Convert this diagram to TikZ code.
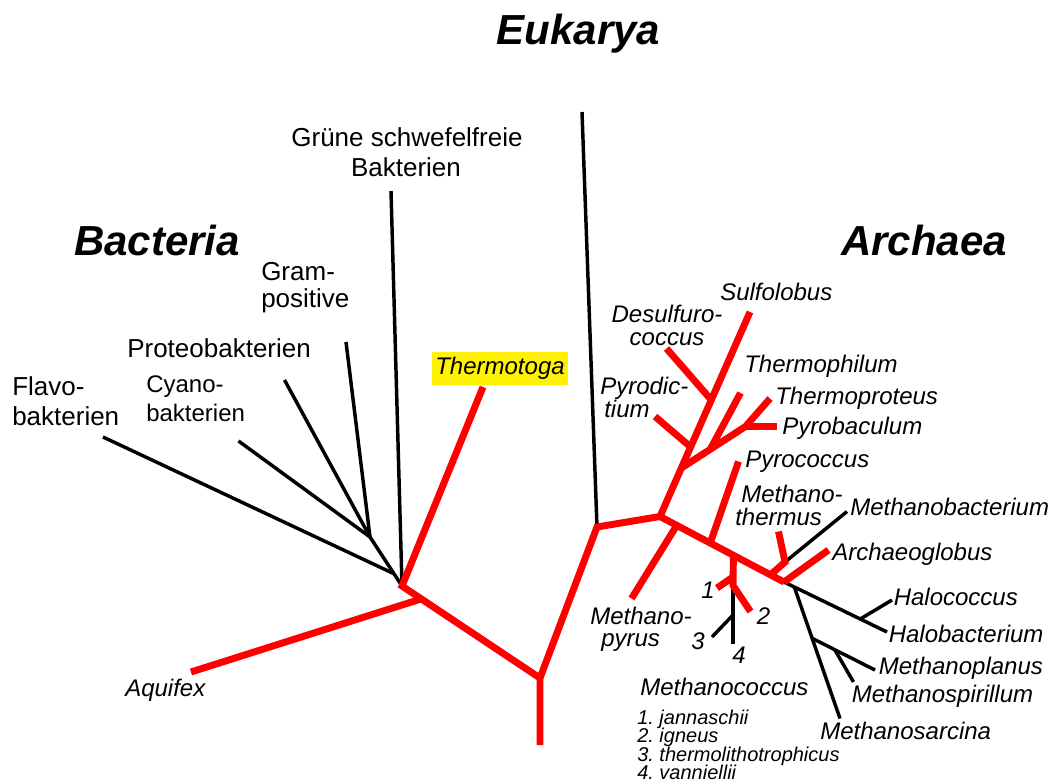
\documentclass[tikz,border=0pt]{standalone}
\usepackage{fontspec}
\setmainfont{Liberation Sans}
\usetikzlibrary{calc}
\frenchspacing
\begin{document}
\begin{tikzpicture}[x=0.75pt,y=-0.75pt,
  redline/.style={draw=red, line width=5.2pt},
  blkline/.style={draw=black, line width=2.6pt},
  title/.style={font=\fontsize{31.5}{34}\selectfont\bfseries\itshape, inner sep=0pt},
  blab/.style={font=\fontsize{19.5}{22}\selectfont, inner sep=0pt},
  clab/.style={font=\fontsize{18}{20}\selectfont, inner sep=0pt},
  lab/.style={font=\fontsize{18}{20}\selectfont\itshape, inner sep=0pt},
  slab/.style={font=\fontsize{15}{14}\selectfont\itshape, inner sep=0pt}]
\useasboundingbox (0,0) rectangle (1052,784);
% ---------- coordinates ----------
\coordinate (R0) at (540,745);
\coordinate (R1) at (540,678);
\coordinate (Bhub) at (402,586);
\coordinate (Ttop) at (483,387);
\coordinate (Aq) at (191,672);
\coordinate (AqJ) at ($(Bhub)!0.14!(R1)$);
\coordinate (Ej) at (597,527);
\coordinate (Aj) at (660,516.5);
\coordinate (Sulf) at (750,312);
\coordinate (DesJ) at ($(Aj)!0.57!(Sulf)$);
\coordinate (Des) at (666.5,348.5);
\coordinate (PydJ) at ($(Aj)!0.34!(Sulf)$);
\coordinate (Pyd) at (655,416.5);
\coordinate (ThJ) at ($(Aj)!0.237!(Sulf)$);
\coordinate (PbJ) at (745.5,426.5);
\coordinate (Tp) at (770,398.5);
\coordinate (Pb) at (777,426.5);
\coordinate (TfJ) at ($(ThJ)!0.45!(PbJ)$);
\coordinate (Tf) at (740.5,393);
\coordinate (Eend) at (784,582);
\coordinate (PcJ) at ($(Aj)!0.405!(Eend)$);
\coordinate (Pc) at (738.5,461.5);
\coordinate (MpJ) at ($(Aj)!0.135!(Eend)$);
\coordinate (Mp) at (631.5,598.5);
\coordinate (McJ) at ($(Aj)!0.592!(Eend)$);
\coordinate (Mc1) at (733,577);
\coordinate (Mc2) at (733,585.5);
\coordinate (M1) at (717,588);
\coordinate (M2) at (750.5,611.5);
\coordinate (Mc3) at (733,615);
\coordinate (M3) at (712,637);
\coordinate (M4) at (733,643.5);
\coordinate (MtJ) at ($(Aj)!0.891!(Eend)$);
\coordinate (MtK) at (785,562);
\coordinate (Mt) at (778.5,531.5);
\coordinate (Mb) at (847,511.5);
\coordinate (Ag) at (828.5,550);
\coordinate (Hb) at (887,632);
\coordinate (HcJ) at ($(Eend)!0.74!(Hb)$);
\coordinate (Hc) at (892,600);
\coordinate (MsJ) at ($(Eend)!0.1!(Hb)$);
\coordinate (Ms) at (840,718.5);
\coordinate (MplJ) at ($(MsJ)!0.39!(Ms)$);
\coordinate (Mpl) at (875,670);
\coordinate (MspJ) at ($(MplJ)!0.36!(Mpl)$);
\coordinate (Msp) at (853.5,682);
\coordinate (GrT) at (391,191);
\coordinate (J1) at (370,537);
\coordinate (J2) at ($(J1)!0.75!(Bhub)$);
\coordinate (GpT) at (346,342);
\coordinate (PrT) at (284.5,380);
\coordinate (CyT) at (238.5,441);
\coordinate (FlT) at (103,437);
\coordinate (EuT) at (582,112);
% ---------- black branches ----------
\draw[blkline] (EuT) -- (Ej);
\draw[blkline] (GrT) -- (Bhub);
\draw[blkline] (J1) -- (Bhub);
\draw[blkline] (GpT) -- (J1);
\draw[blkline] (PrT) -- (J1);
\draw[blkline] (CyT) -- (J1);
\draw[blkline] (FlT) -- (J2);
\draw[blkline] (Eend) -- (Hb);
\draw[blkline] (HcJ) -- (Hc);
\draw[blkline] (MsJ) -- (Ms);
\draw[blkline] (MplJ) -- (Mpl);
\draw[blkline] (MspJ) -- (Msp);
\draw[blkline] (MtK) -- (Mb);
\draw[blkline] (Mc2) -- (M4);
\draw[blkline] (Mc3) -- (M3);
% ---------- red branches ----------
\draw[redline] (Ttop) -- (Bhub) -- (R1) -- (R0);
\draw[redline] (Aq) -- (AqJ);
\draw[redline] (R1) -- (Ej) -- (Aj) -- (Sulf);
\draw[redline] (Aj) -- (Eend);
\draw[redline] (DesJ) -- (Des);
\draw[redline] (PydJ) -- (Pyd);
\draw[redline] (ThJ) -- (PbJ) -- (Tp);
\draw[redline] (PbJ) -- (Pb);
\draw[redline] (TfJ) -- (Tf);
\draw[redline] (PcJ) -- (Pc);
\draw[redline] (MpJ) -- (Mp);
\draw[redline] (McJ) -- (Mc2) -- (M2);
\draw[redline] (Mc1) -- (M1);
\draw[redline] (MtJ) -- (MtK) -- (Mt);
\draw[redline] (Eend) -- (Ag);
% ---------- titles ----------
\node[title, anchor=base] (eu) at (578.5,45) {Eukarya};
\node[title, anchor=base] (ba) at (157,256) {Bacteria};
\node[title, anchor=base] (ar) at (924,256) {Archaea};
% ---------- bacteria labels ----------
\node[blab, anchor=base] (gr1) at (407,146.5) {Grüne schwefelfreie};
\node[blab, anchor=base] (gr2) at (406,176.5) {Bakterien};
\node[blab, anchor=base west] (gp1) at (261,280) {Gram-};
\node[blab, anchor=base west] (gp2) at (261,307) {positive};
\node[blab, anchor=base west] (pr) at (127,357) {Proteobakterien};
\node[blab, anchor=base west] (fl1) at (12,395) {Flavo-};
\node[blab, anchor=base west] (fl2) at (12,425.5) {bakterien};
\node[clab, anchor=base west] (cy1) at (146,392.5) {Cyano-};
\node[clab, anchor=base west] (cy2) at (146,421.5) {bakterien};
\node[lab, fill=yellow, minimum width=102pt, minimum height=24.75pt] (tt) at (500,368.5) {Thermotoga};
\node[lab, anchor=base west] (aq) at (125,696) {Aquifex};
% ---------- archaea labels ----------
\node[lab, anchor=base west] (sf) at (720,300.5) {Sulfolobus};
\node[lab, anchor=base] (ds1) at (667,322) {Desulfuro-};
\node[lab, anchor=base] (ds2) at (667,345) {coccus};
\node[lab, anchor=base west] (tf) at (744,372) {Thermophilum};
\node[lab, anchor=base west] (pd1) at (600,394) {Pyrodic-};
\node[lab, anchor=base west] (pd2) at (604,417) {tium};
\node[lab, anchor=base west] (tp) at (775,404) {Thermoproteus};
\node[lab, anchor=base west] (pb) at (782,434) {Pyrobaculum};
\node[lab, anchor=base west] (pc) at (745,467) {Pyrococcus};
\node[lab, anchor=base west] (mt1) at (741,502) {Methano-};
\node[lab, anchor=base west] (mt2) at (735,525) {thermus};
\node[lab, anchor=base west] (mb) at (850,515) {Methanobacterium};
\node[lab, anchor=base west] (ag) at (832,560) {Archaeoglobus};
\node[lab, anchor=base west] (hc) at (893.5,605) {Halococcus};
\node[lab, anchor=base west] (hb) at (888.5,642) {Halobacterium};
\node[lab, anchor=base west] (mpl) at (878.5,674) {Methanoplanus};
\node[lab, anchor=base west] (msp) at (851.5,702) {Methanospirillum};
\node[lab, anchor=base west] (ms) at (820,739) {Methanosarcina};
\node[lab, anchor=base west] (mp1) at (590,624) {Methano-};
\node[lab, anchor=base west] (mp2) at (601,646) {pyrus};
\node[lab, anchor=base west] (mc) at (640,695) {Methanococcus};
\node[lab, anchor=base] (n1) at (708,598.5) {1};
\node[lab, anchor=base] (n2) at (763.5,624.5) {2};
\node[lab, anchor=base] (n3) at (698,649.5) {3};
\node[lab, anchor=base] (n4) at (739,663.5) {4};
\node[slab, anchor=base west] (l1) at (637,724.5) {1. jannaschii};
\node[slab, anchor=base west] (l2) at (637,742.5) {2. igneus};
\node[slab, anchor=base west] (l3) at (637,761) {3. thermolithotrophicus};
\node[slab, anchor=base west] (l4) at (637,779) {4. vanniellii};
\end{tikzpicture}
\end{document}
